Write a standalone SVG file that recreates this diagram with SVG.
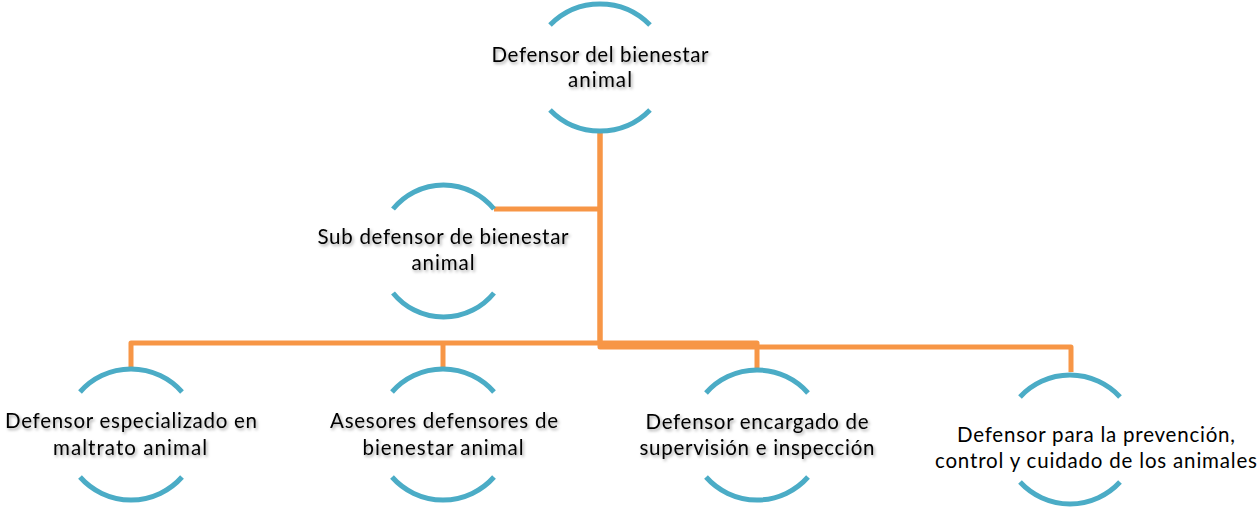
<svg xmlns="http://www.w3.org/2000/svg" width="1257" height="508" viewBox="0 0 1257 508">
<style>
.arc{fill:none;stroke:#4bacc6;stroke-width:5}
.con{fill:none;stroke:#f79646;stroke-width:5;stroke-linejoin:round}
.t{font-family:Lato,"Open Sans",sans-serif;font-size:20.5px;fill:#000;text-anchor:middle}
.sh{filter:url(#shadow)}
</style>
<defs>
<filter id="shadow" x="-10%" y="-30%" width="120%" height="170%">
<feDropShadow dx="1.5" dy="2" stdDeviation="1.5" flood-color="#000" flood-opacity="0.35"/>
</filter>
</defs>
<rect width="1257" height="508" fill="#fff"/>
<g id="connectors">
<path class="con" d="M600,132 V343 H131 V368"/>
<path class="con" d="M443,343 V368"/>
<path class="con" d="M600,343 H757 V369"/>
<path class="con" d="M600,132 V347 H1071 V372"/>
<path class="con" d="M600,209 H494"/>
</g>
<g id="n0">
<path class="arc" d="M550,25 A70,70 0 0 1 650,25"/>
<path class="arc" d="M550,110 A70,70 0 0 0 650,110"/>
<g class="sh"><text class="t" x="600" y="62" textLength="217" lengthAdjust="spacing">Defensor del bienestar</text>
<text class="t" x="600" y="87" textLength="64" lengthAdjust="spacing">animal</text></g>
</g>
<g id="n1">
<path class="arc" d="M393,209 A65,65 0 0 1 494,209"/>
<path class="arc" d="M393,293 A65,65 0 0 0 494,293"/>
<g class="sh"><text class="t" x="443" y="244" textLength="251" lengthAdjust="spacing">Sub defensor de bienestar</text>
<text class="t" x="443" y="270" textLength="63" lengthAdjust="spacing">animal</text></g>
</g>
<g id="n2">
<path class="arc" d="M80,392 A68,68 0 0 1 182,392"/>
<path class="arc" d="M80,477 A68,68 0 0 0 182,477"/>
<g class="sh"><text class="t" x="131" y="428" textLength="252" lengthAdjust="spacing">Defensor especializado en</text>
<text class="t" x="130" y="455" textLength="154" lengthAdjust="spacing">maltrato animal</text></g>
</g>
<g id="n3">
<path class="arc" d="M392,392 A68,68 0 0 1 494,392"/>
<path class="arc" d="M392,477 A68,68 0 0 0 494,477"/>
<g class="sh"><text class="t" x="444" y="428" textLength="228" lengthAdjust="spacing">Asesores defensores de</text>
<text class="t" x="443" y="455" textLength="161" lengthAdjust="spacing">bienestar animal</text></g>
</g>
<g id="n4">
<path class="arc" d="M706,393 A68,68 0 0 1 808,393"/>
<path class="arc" d="M706,477 A68,68 0 0 0 808,477"/>
<g class="sh"><text class="t" x="757" y="429" textLength="223" lengthAdjust="spacing">Defensor encargado de</text>
<text class="t" x="757" y="455" textLength="235" lengthAdjust="spacing">supervisión e inspección</text></g>
</g>
<g id="n5">
<path class="arc" d="M1020,397 A68,68 0 0 1 1120,397"/>
<path class="arc" d="M1020,482 A68,68 0 0 0 1120,482"/>
<text class="t" x="1096" y="442" textLength="278" lengthAdjust="spacing">Defensor para la prevención,</text>
<text class="t" x="1096" y="468" textLength="322" lengthAdjust="spacing">control y cuidado de los animales</text>
</g>
</svg>
